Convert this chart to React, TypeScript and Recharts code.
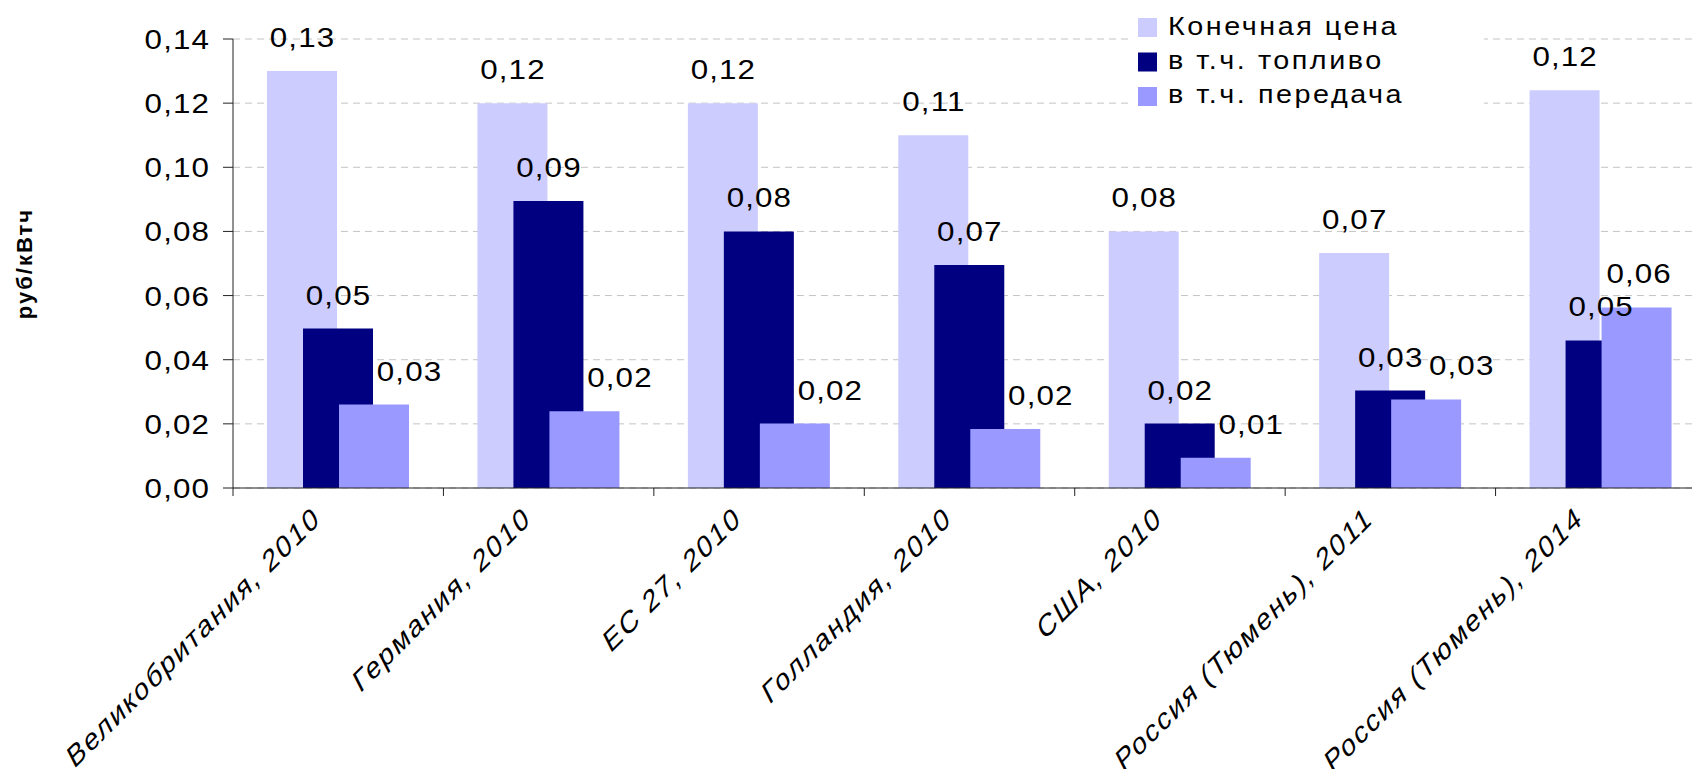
import React from 'react';
import { BarChart, Bar, XAxis, YAxis, CartesianGrid, Legend, LabelList, Label } from 'recharts';

// Electricity price breakdown, rub per kWh
const categories = [
  'Великобритания, 2010',
  'Германия, 2010',
  'ЕС 27, 2010',
  'Голландия, 2010',
  'США, 2010',
  'Россия (Тюмень), 2011',
  'Россия (Тюмень), 2014',
];
const finalPrice = [0.13, 0.12, 0.12, 0.11, 0.08, 0.0733, 0.124];
const fuelShare = [0.0497, 0.0895, 0.08, 0.0695, 0.0201, 0.0304, 0.046];
const gridShare = [0.026, 0.0239, 0.0201, 0.0184, 0.0094, 0.0276, 0.0563];
const yTicks = [0, 0.02, 0.04, 0.06, 0.08, 0.1, 0.12, 0.14];
const seriesNames = ['Конечная цена', 'в т.ч. топливо', 'в т.ч. передача'];
const seriesColors = ['#CCCCFF', '#000080', '#9999FF'];
const yAxisTitle = 'руб/кВтч';

const FONT = '"Liberation Sans", Arial, sans-serif';
const CHART_W = 1710;
const CHART_H = 769;
const MARGIN = { top: 39, right: 4, bottom: 0, left: 0 };
const Y_AXIS_W = 233;
const X_AXIS_H = 281;
const PLOT_W = CHART_W - MARGIN.left - MARGIN.right - Y_AXIS_W;
const BAND = PLOT_W / categories.length;
// the chart's typeface is set slightly wide
const STRETCH = 1.12;

const data = categories.map((name, i) => ({
  name,
  price: finalPrice[i],
  fuel: fuelShare[i],
  grid: gridShare[i],
}));

const fmt = (v: number) => Number(v).toFixed(2).replace('.', ',');

const WideText = ({
  x,
  y,
  anchor,
  size,
  spacing,
  scale = STRETCH,
  dy,
  children,
}: {
  x: number;
  y: number;
  anchor: 'start' | 'middle' | 'end';
  size: number;
  spacing: number;
  scale?: number;
  dy?: string;
  children: React.ReactNode;
}) => {
  const shift = anchor === 'middle' ? spacing / 2 : anchor === 'end' ? spacing : 0;
  return (
    <g transform={`translate(${x},${y}) scale(${scale},1)`}>
      <text
        x={shift}
        y={0}
        dy={dy}
        textAnchor={anchor}
        fontSize={size}
        letterSpacing={spacing}
        fontFamily={FONT}
        fill="#000"
      >
        {children}
      </text>
    </g>
  );
};

const makeValueLabel = (shift: (i: number) => number) => (props: any) => {
  const { x, y, width, value, index } = props;
  return (
    <WideText
      x={Number(x) + Number(width) / 2 + shift(index)}
      y={Number(y) - 24}
      anchor="middle"
      size={28}
      spacing={1}
    >
      {fmt(value)}
    </WideText>
  );
};

const ValueTick = (props: any) => {
  const { x, y, payload } = props;
  return (
    <WideText x={Number(x)} y={Number(y)} anchor="end" size={28} spacing={1} dy="0.355em">
      {fmt(payload.value)}
    </WideText>
  );
};

const CategoryTick = (props: any) => {
  const { x, y, payload } = props;
  const left = Number(x) - BAND / 2;
  return (
    <g>
      <line x1={left} x2={left} y1={y} y2={Number(y) + 8} stroke="#222" strokeWidth={1} />
      <g
        transform={`translate(${Number(x) - 18},${Number(y) + 35}) rotate(-45) skewX(-18) scale(1.1,1)`}
      >
        <text
          x={1.8}
          textAnchor="end"
          fontSize={27}
          letterSpacing={1.8}
          fontFamily={FONT}
          fill="#000"
        >
          {payload.value}
        </text>
      </g>
    </g>
  );
};

const LegendBox = () => (
  <svg width={351} height={104} style={{ display: 'block' }}>
    <rect x={0} y={0} width={351} height={104} fill="#fff" />
    {seriesNames.map((n, i) => (
      <g key={n}>
        <rect x={5} y={14 + i * 34.5} width={19} height={19} fill={seriesColors[i]} />
        <WideText x={35} y={30.5 + i * 34} anchor="start" size={25} spacing={2.2} scale={1.15}>
          {n}
        </WideText>
      </g>
    ))}
  </svg>
);

export default function App() {
  return (
    <div
      style={{
        position: 'absolute',
        left: 0,
        top: 0,
        width: 1692,
        height: 769,
        overflow: 'hidden',
        background: '#fff',
      }}
    >
      <BarChart width={CHART_W} height={CHART_H} data={data} margin={MARGIN} barGap={-34}>
        <CartesianGrid vertical={false} stroke="#c4c4c4" strokeDasharray="7 5" />
        <XAxis
          dataKey="name"
          height={X_AXIS_H}
          interval={0}
          tickLine={false}
          tickSize={0}
          tickMargin={0}
          axisLine={{ stroke: '#222' }}
          tick={<CategoryTick />}
        />
        <YAxis
          width={Y_AXIS_W}
          domain={[0, 0.14]}
          ticks={yTicks}
          interval={0}
          allowDataOverflow
          tickFormatter={fmt}
          tickSize={10}
          tickMargin={14}
          axisLine={{ stroke: '#222' }}
          tickLine={{ stroke: '#222' }}
          tick={<ValueTick />}
        >
          <Label
            content={(p: any) => {
              const vb = p.viewBox || {};
              const lx = Number(vb.x || 0) + 32;
              const ly = Number(vb.y || 0) + Number(vb.height || 0) / 2;
              return (
                <text
                  x={lx}
                  y={ly}
                  transform={`rotate(-90, ${lx}, ${ly})`}
                  textAnchor="middle"
                  fontSize={22}
                  fontWeight="bold"
                  letterSpacing={2}
                  fontFamily={FONT}
                  fill="#000"
                >
                  {yAxisTitle}
                </text>
              );
            }}
          />
        </YAxis>
        <Legend
          layout="vertical"
          align="center"
          verticalAlign="middle"
          wrapperStyle={{ left: 1133, top: 4, width: 351, height: 104 }}
          content={() => <LegendBox />}
        />
        <Bar dataKey="price" name={seriesNames[0]} fill={seriesColors[0]} barSize={70} isAnimationActive={false}>
          <LabelList dataKey="price" content={makeValueLabel(() => 0)} />
        </Bar>
        <Bar dataKey="fuel" name={seriesNames[1]} fill={seriesColors[1]} barSize={70} isAnimationActive={false}>
          <LabelList dataKey="fuel" content={makeValueLabel(() => 0)} />
        </Bar>
        <Bar dataKey="grid" name={seriesNames[2]} fill={seriesColors[2]} barSize={70} isAnimationActive={false}>
          <LabelList
            dataKey="grid"
            content={makeValueLabel((i) => (i === categories.length - 1 ? 2 : 35))}
          />
        </Bar>
      </BarChart>
    </div>
  );
}
